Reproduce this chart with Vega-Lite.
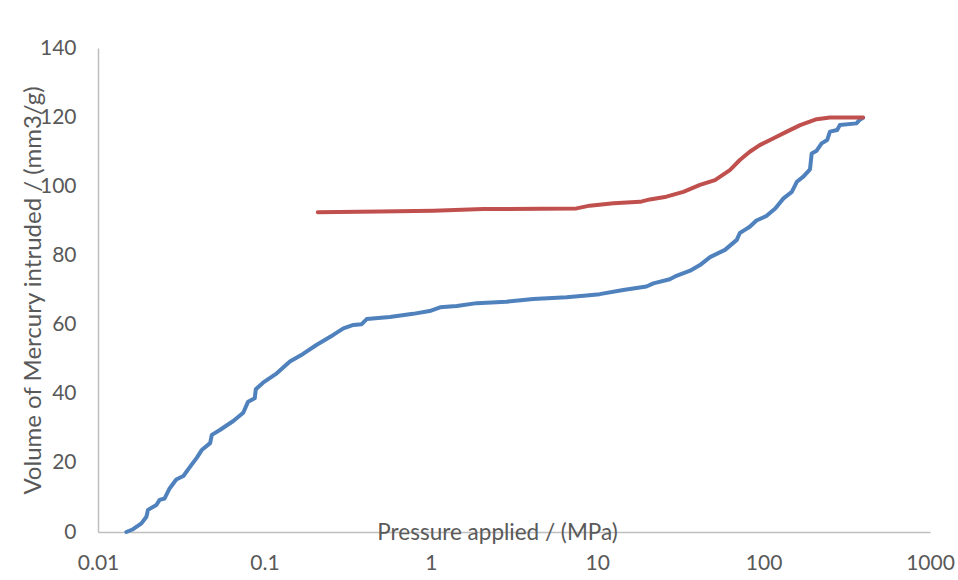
{
  "$schema": "https://vega.github.io/schema/vega-lite/v6.json",
  "width": 832,
  "height": 484,
  "autosize": {"type": "none"},
  "padding": {"left": 98, "top": 48, "right": 28, "bottom": 48},
  "background": "white",
  "config": {
    "view": {"stroke": null},
    "font": "Lato",
    "axis": {"labelFont": "Lato", "titleFont": "Lato", "labelColor": "#595959", "titleColor": "#595959", "labelFontSize": 21, "titleFontSize": 22.5, "titleFontWeight": "normal", "grid": false, "ticks": false, "tickSize": 0, "domainColor": "#bfbfbf", "domainWidth": 1.5}
  },
  "data": {
    "values": [
      {"s": "intrusion", "p": 0.0148, "v": 0},
      {"s": "intrusion", "p": 0.01625, "v": 0.8},
      {"s": "intrusion", "p": 0.01824, "v": 2.5},
      {"s": "intrusion", "p": 0.01954, "v": 4.4},
      {"s": "intrusion", "p": 0.01997, "v": 6.4},
      {"s": "intrusion", "p": 0.02242, "v": 7.8},
      {"s": "intrusion", "p": 0.02346, "v": 9.3},
      {"s": "intrusion", "p": 0.02514, "v": 9.7},
      {"s": "intrusion", "p": 0.02693, "v": 12.6},
      {"s": "intrusion", "p": 0.02953, "v": 15.2},
      {"s": "intrusion", "p": 0.0326, "v": 16.2},
      {"s": "intrusion", "p": 0.0358, "v": 18.9},
      {"s": "intrusion", "p": 0.0393, "v": 21.5},
      {"s": "intrusion", "p": 0.042, "v": 23.7},
      {"s": "intrusion", "p": 0.0472, "v": 25.7},
      {"s": "intrusion", "p": 0.0483, "v": 28.1},
      {"s": "intrusion", "p": 0.054, "v": 29.5},
      {"s": "intrusion", "p": 0.065, "v": 32.1},
      {"s": "intrusion", "p": 0.0746, "v": 34.5},
      {"s": "intrusion", "p": 0.0798, "v": 37.7},
      {"s": "intrusion", "p": 0.0875, "v": 38.7},
      {"s": "intrusion", "p": 0.0888, "v": 41.3},
      {"s": "intrusion", "p": 0.0981, "v": 43.2},
      {"s": "intrusion", "p": 0.1187, "v": 45.9},
      {"s": "intrusion", "p": 0.1423, "v": 49.3},
      {"s": "intrusion", "p": 0.1707, "v": 51.5},
      {"s": "intrusion", "p": 0.2053, "v": 54.1},
      {"s": "intrusion", "p": 0.2592, "v": 57.0},
      {"s": "intrusion", "p": 0.2985, "v": 58.9},
      {"s": "intrusion", "p": 0.3424, "v": 59.9},
      {"s": "intrusion", "p": 0.3843, "v": 60.1},
      {"s": "intrusion", "p": 0.4119, "v": 61.6},
      {"s": "intrusion", "p": 0.5672, "v": 62.2},
      {"s": "intrusion", "p": 0.7818, "v": 63.1},
      {"s": "intrusion", "p": 0.9832, "v": 63.9},
      {"s": "intrusion", "p": 1.138, "v": 65.0},
      {"s": "intrusion", "p": 1.433, "v": 65.4},
      {"s": "intrusion", "p": 1.887, "v": 66.2},
      {"s": "intrusion", "p": 2.846, "v": 66.6},
      {"s": "intrusion", "p": 4.131, "v": 67.4},
      {"s": "intrusion", "p": 6.55, "v": 67.9},
      {"s": "intrusion", "p": 8.615, "v": 68.4},
      {"s": "intrusion", "p": 10.35, "v": 68.8},
      {"s": "intrusion", "p": 14.33, "v": 70.0},
      {"s": "intrusion", "p": 19.77, "v": 71.0},
      {"s": "intrusion", "p": 21.76, "v": 71.9},
      {"s": "intrusion", "p": 27.3, "v": 73.1},
      {"s": "intrusion", "p": 29.92, "v": 74.1},
      {"s": "intrusion", "p": 36.19, "v": 75.6},
      {"s": "intrusion", "p": 41.45, "v": 77.2},
      {"s": "intrusion", "p": 47.66, "v": 79.5},
      {"s": "intrusion", "p": 58.6, "v": 81.6},
      {"s": "intrusion", "p": 69.01, "v": 84.5},
      {"s": "intrusion", "p": 71.96, "v": 86.5},
      {"s": "intrusion", "p": 77.11, "v": 87.4},
      {"s": "intrusion", "p": 82.58, "v": 88.3},
      {"s": "intrusion", "p": 90.58, "v": 90.1},
      {"s": "intrusion", "p": 103.9, "v": 91.4},
      {"s": "intrusion", "p": 117.5, "v": 93.6},
      {"s": "intrusion", "p": 131.7, "v": 96.5},
      {"s": "intrusion", "p": 147.8, "v": 98.4},
      {"s": "intrusion", "p": 158.4, "v": 101.3},
      {"s": "intrusion", "p": 173.3, "v": 102.8},
      {"s": "intrusion", "p": 190.0, "v": 104.9},
      {"s": "intrusion", "p": 194.5, "v": 109.5},
      {"s": "intrusion", "p": 208.4, "v": 110.3},
      {"s": "intrusion", "p": 223.2, "v": 112.4},
      {"s": "intrusion", "p": 241.2, "v": 113.4},
      {"s": "intrusion", "p": 250.4, "v": 115.8},
      {"s": "intrusion", "p": 276.7, "v": 116.3},
      {"s": "intrusion", "p": 287.0, "v": 117.7},
      {"s": "intrusion", "p": 361.2, "v": 118.2},
      {"s": "intrusion", "p": 378.1, "v": 119.2},
      {"s": "intrusion", "p": 396.0, "v": 119.8},
      {"s": "extrusion", "p": 0.2093, "v": 92.5},
      {"s": "extrusion", "p": 0.4946, "v": 92.7},
      {"s": "extrusion", "p": 1.038, "v": 92.9},
      {"s": "extrusion", "p": 2.062, "v": 93.4},
      {"s": "extrusion", "p": 7.515, "v": 93.6},
      {"s": "extrusion", "p": 9.02, "v": 94.4},
      {"s": "extrusion", "p": 12.53, "v": 95.1},
      {"s": "extrusion", "p": 18.1, "v": 95.5},
      {"s": "extrusion", "p": 20.71, "v": 96.2},
      {"s": "extrusion", "p": 26.05, "v": 97.0},
      {"s": "extrusion", "p": 32.93, "v": 98.4},
      {"s": "extrusion", "p": 41.45, "v": 100.4},
      {"s": "extrusion", "p": 51.02, "v": 101.8},
      {"s": "extrusion", "p": 62.7, "v": 104.7},
      {"s": "extrusion", "p": 71.96, "v": 107.6},
      {"s": "extrusion", "p": 82.58, "v": 110.0},
      {"s": "extrusion", "p": 94.79, "v": 111.9},
      {"s": "extrusion", "p": 114.8, "v": 113.9},
      {"s": "extrusion", "p": 137.9, "v": 115.8},
      {"s": "extrusion", "p": 165.8, "v": 117.7},
      {"s": "extrusion", "p": 208.4, "v": 119.4},
      {"s": "extrusion", "p": 250.4, "v": 119.9},
      {"s": "extrusion", "p": 396.0, "v": 119.9}
    ]
  },
  "mark": {"type": "line", "strokeWidth": 4, "strokeCap": "round", "strokeJoin": "round"},
  "encoding": {
    "x": {
      "field": "p", "type": "quantitative",
      "scale": {"type": "log", "domain": [0.01, 1000], "nice": false},
      "axis": {"values": [0.01, 0.1, 1, 10, 100, 1000], "format": "~g", "labelPadding": 20, "labelFlush": false, "labelOverlap": false,
        "title": "Pressure applied / (MPa)", "titleX": 399, "titleY": 0, "titleAlign": "center", "titleBaseline": "middle"}
    },
    "y": {
      "field": "v", "type": "quantitative",
      "scale": {"domain": [0, 140], "nice": false},
      "axis": {"values": [0, 20, 40, 60, 80, 100, 120, 140], "labelPadding": 22, "titleFontSize": 24,
        "title": "Volume of Mercury intruded / (mm3/g)", "titleX": -65, "titleY": 242, "titleAngle": -90, "titleAlign": "center", "titleBaseline": "middle"}
    },
    "color": {
      "field": "s", "type": "nominal",
      "scale": {"domain": ["intrusion", "extrusion"], "range": ["#4f81bd", "#c0504d"]},
      "legend": null
    }
  }
}
